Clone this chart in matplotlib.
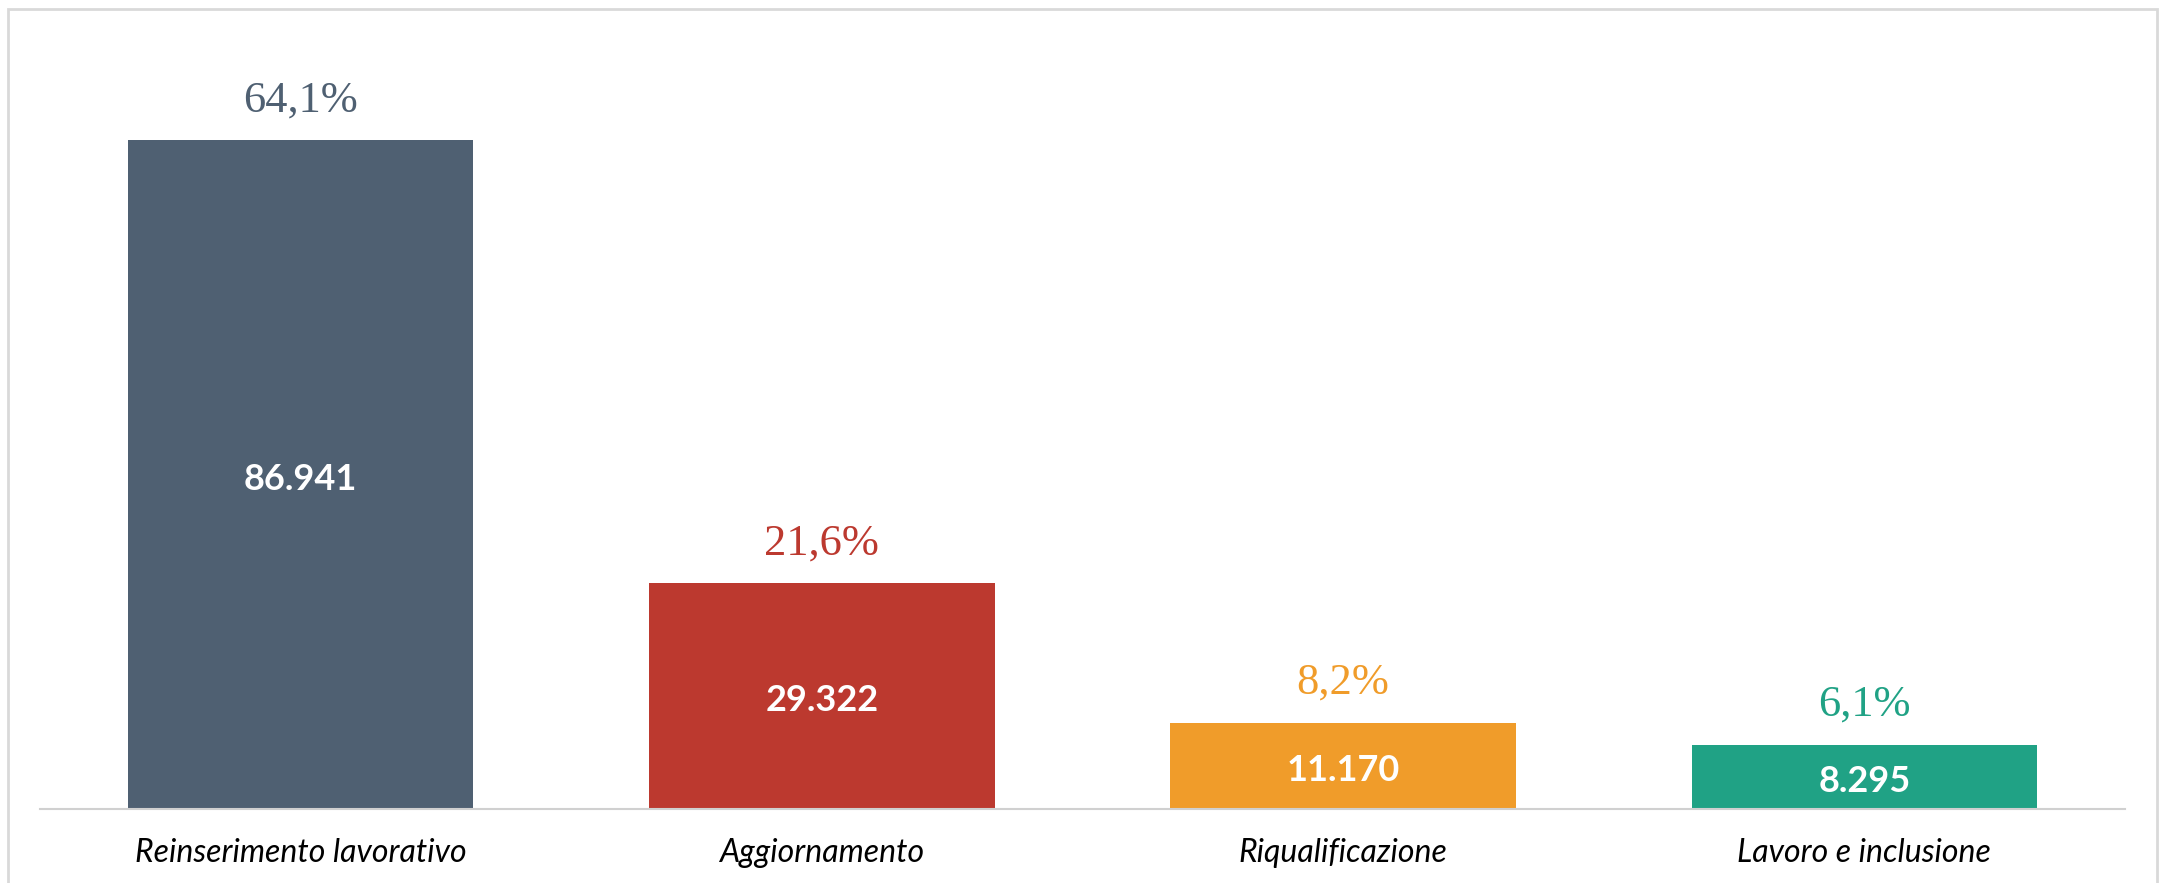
import matplotlib.pyplot as plt
from matplotlib.patches import Rectangle

categories = ["Reinserimento lavorativo", "Aggiornamento", "Riqualificazione", "Lavoro e inclusione"]
values = [86941, 29322, 11170, 8295]
value_labels = ["86.941", "29.322", "11.170", "8.295"]
pct_labels = ["64,1%", "21,6%", "8,2%", "6,1%"]
colors = ["#4f6072", "#bc392f", "#f09c2a", "#20a285"]

fig = plt.figure(figsize=(21.6, 8.83), dpi=100)
# light frame round the whole chart
fig.patches.append(Rectangle((8 / 2160, -0.05), 2149 / 2160, 1.05 - 9 / 883,
                             transform=fig.transFigure, fill=False,
                             edgecolor="#d9d9d9", linewidth=2))

ax = fig.add_axes([0.0185, 0.0843, 0.9653, 0.8704])
x = range(len(categories))
bars = ax.bar(x, values, width=0.663, color=colors)

for i, b in enumerate(bars):
    h = b.get_height()
    ax.annotate(value_labels[i], (b.get_x() + b.get_width() / 2, h / 2),
                xytext=(0, -5), textcoords="offset pixels",
                ha="center", va="center", color="white", fontsize=26,
                fontweight="bold", family="Lato")
    ax.annotate(pct_labels[i], (b.get_x() + b.get_width() / 2, h),
                xytext=(0, 20), textcoords="offset pixels",
                ha="center", va="bottom", color=colors[i], fontsize=32,
                family="Liberation Serif")

ax.set_xlim(-0.5, 3.5)
ax.set_ylim(0, 100000)
ax.set_xticks(list(x))
ax.set_xticklabels(categories, fontsize=23, style="italic", family="Lato")
ax.tick_params(axis="x", length=0, pad=21)
ax.set_yticks([])
for s in ["top", "left", "right"]:
    ax.spines[s].set_visible(False)
ax.spines["bottom"].set_color("#d0d0d0")
ax.spines["bottom"].set_linewidth(1.5)

fig.savefig("out.png", dpi=100)
